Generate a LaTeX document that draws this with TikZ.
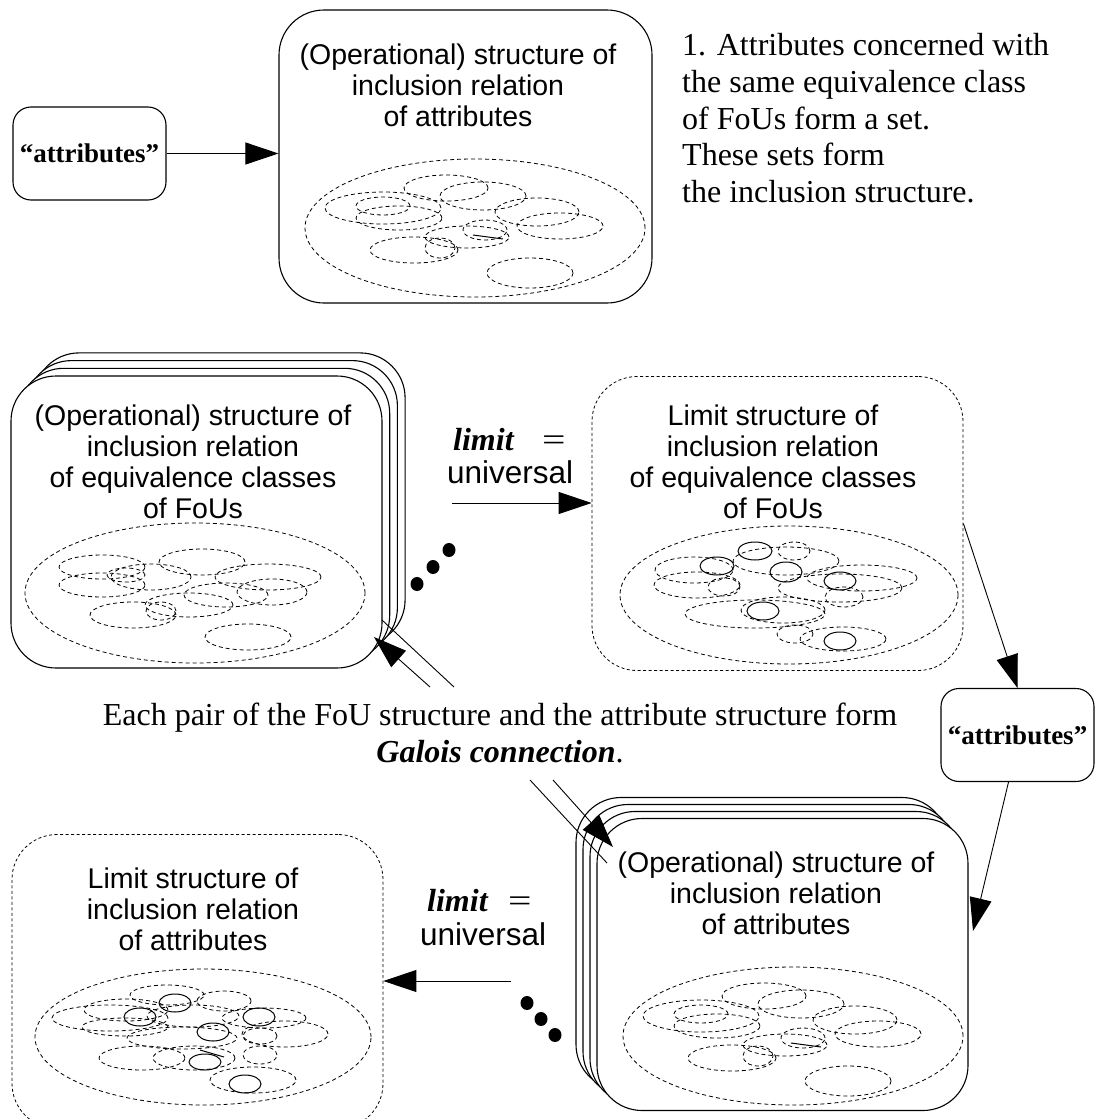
\documentclass[tikz,border=0pt]{standalone}
\usepackage{fontspec}
\setmainfont{Liberation Serif}
\newfontfamily\arialf{Liberation Sans}
\usetikzlibrary{arrows.meta,calc}
\newcommand\dashEl[4]{\draw[dsh] (#1,#2) ellipse [x radius=#3pt, y radius=#4pt];}
\newcommand\solEl[4]{\draw[sol] (#1,#2) ellipse [x radius=#3pt, y radius=#4pt];}
\tikzset{
  solidbox/.style={draw, line width=1.1pt, rounded corners=45pt, fill=white, minimum width=371pt, minimum height=292pt, inner sep=0pt},
  dashbox/.style={draw, line width=0.8pt, dash pattern=on 3pt off 2.5pt, rounded corners=45pt, minimum width=371pt, minimum height=294pt, inner sep=0pt},
  attrbox/.style={draw, line width=1.1pt, rounded corners=18pt, fill=white, minimum width=153pt, minimum height=93pt, inner sep=0pt, font=\fontsize{27}{30}\selectfont\bfseries},
  arr/.style={line width=0.9pt, -{Triangle[length=33pt,width=22pt]}},
  plainline/.style={line width=0.9pt},
  boxtext/.style={font=\arialf\fontsize{28.5}{30.8}\selectfont, align=center, inner sep=0pt, anchor=north},
  sanslbl/.style={font=\arialf\fontsize{31.5}{34}\selectfont, inner sep=0pt},
  seriflbl/.style={font=\fontsize{32}{36.8}\selectfont, inner sep=0pt},
  dsh/.style={line width=0.8pt, dash pattern=on 4pt off 3pt},
  sol/.style={line width=1pt},
}
\begin{document}
\begin{tikzpicture}[x=1pt,y=-1pt]
\useasboundingbox (0,0) rectangle (1095,1119);

% ---------------- top row ----------------
\node[attrbox] (attr1) at (89.5,153.5) {``attributes''};
\node[solidbox, minimum width=373pt, minimum height=293pt] (top) at (465.5,156.5) {};
\node[boxtext] (topT) at (458,44) {(Operational) structure of\\inclusion relation\\of attributes};
\begin{scope}
  \dashEl{475}{228}{170}{69}
  \dashEl{446}{188}{42}{13}
  \dashEl{483}{196}{43}{14}
  \dashEl{383}{208}{58}{16}
  \dashEl{383}{206}{27}{9}
  \dashEl{399}{218}{43}{12}
  \dashEl{537}{212}{42}{14}
  \dashEl{560}{226}{43}{13}
  \dashEl{485}{230}{22}{10}
  \dashEl{467}{237}{42}{11}
  \dashEl{414}{250}{44}{13}
  \dashEl{440}{248}{15}{10}
  \dashEl{530}{273}{43}{15}
  \draw[sol] (473,235) -- (503,239);
\end{scope}
\draw[arr] (attr1.east) -- (attr1.east -| top.west);
\node[seriflbl, anchor=north west, align=left] (note) at (682,33)
  {1. Attributes concerned with\\the same equivalence class\\of FoUs form a set.\\These sets form\\the inclusion structure.};

% ---------------- middle row ----------------
\foreach \k in {3,2,1}{
  \node[solidbox] (fou\k) at ({196.5+7.7*\k},{522-7.7*\k}) {};
}
\node[solidbox] (fou) at (196.5,522) {};
\node[boxtext] (fouT) at (193,405) {(Operational) structure of\\inclusion relation\\of equivalence classes\\of FoUs};
\dashEl{195}{593}{170}{70}
\dashEl{102}{567}{43}{12}
\dashEl{102}{585}{43}{12}
\dashEl{126}{575}{19}{7}
\dashEl{151}{577}{40}{13}
\dashEl{202}{562}{43}{13}
\dashEl{268}{577}{53}{13}
\dashEl{272}{592}{35}{13}
\dashEl{226}{595}{42}{12}
\dashEl{189}{605}{44}{12}
\dashEl{133}{615}{43}{13}
\dashEl{161}{611}{15}{9}
\dashEl{248}{637}{43}{13}

\node[dashbox] (limF) at (777.5,523.5) {};
\node[boxtext] (limFT) at (773,405) {Limit structure of\\inclusion relation\\of equivalence classes\\of FoUs};
\dashEl{789}{595}{169}{69}
\dashEl{794}{551}{16}{9}
\dashEl{694}{570}{39}{13}
\dashEl{697}{585}{43}{13}
\dashEl{724}{587}{16}{9}
\dashEl{786}{561}{53}{14}
\dashEl{862}{578}{55}{13}
\dashEl{840}{588}{62}{14}
\dashEl{844}{597}{19}{10}
\dashEl{783}{610}{42}{13}
\dashEl{755}{614}{70}{14}
\dashEl{795}{634}{18}{9}
\dashEl{843}{639}{43}{12}
\solEl{755}{551}{17}{9}
\solEl{717}{566}{17}{9}
\solEl{786}{572}{16}{10}
\solEl{840}{581}{16}{9}
\solEl{763}{611}{16}{9}
\solEl{840}{641}{16}{9}

\node[seriflbl, anchor=base west] (lim1) at (453,450) {\bfseries\itshape limit};
\node[seriflbl, anchor=base west] (eq1) at (542,450) {\scalebox{1.3}[1]{=}};
\node[sanslbl, anchor=base west] (uni1) at (447,483) {universal};
\coordinate (m1) at (452,503);
\draw[arr] (m1) -- (m1 -| limF.west);
\fill (417,584) ellipse [x radius=6.5pt, y radius=7pt];
\fill (433,567) ellipse [x radius=6.5pt, y radius=7pt];
\fill (449,550) ellipse [x radius=6.5pt, y radius=7pt];

\node[attrbox] (attr2) at (1017.5,735) {``attributes''};
\draw[arr] (limF.east) -- (attr2.north);

% ---------------- Galois text ----------------
\node[seriflbl, anchor=north, align=center] (gal) at (500,703)
  {Each pair of the FoU structure and the attribute structure form\\\textbf{\textit{Galois connection}}.};

% ---------------- bottom row ----------------
\foreach \k in {3,2,1}{
  \node[solidbox] (opa\k) at ({782.5-7*\k},{964.5-7*\k}) {};
}
\node[solidbox] (opa) at (782.5,964.5) {};
\node[boxtext] (opaT) at (776,852) {(Operational) structure of\\inclusion relation\\of attributes};
\begin{scope}[shift={(318,808)}]
  \dashEl{475}{228}{170}{69}
  \dashEl{446}{188}{42}{13}
  \dashEl{483}{196}{43}{14}
  \dashEl{383}{208}{58}{16}
  \dashEl{383}{206}{27}{9}
  \dashEl{399}{218}{43}{12}
  \dashEl{537}{212}{42}{14}
  \dashEl{560}{226}{43}{13}
  \dashEl{485}{230}{22}{10}
  \dashEl{467}{237}{42}{11}
  \dashEl{414}{250}{44}{13}
  \dashEl{440}{248}{15}{10}
  \dashEl{530}{273}{43}{15}
  \draw[sol] (473,235) -- (503,239);
\end{scope}
\coordinate (t2) at (973,931);
\draw[arr] ($(attr2.south)+(-9,0)$) -- (t2);

\node[dashbox] (limA) at (197.5,981.5) {};
\node[boxtext] (limAT) at (193,868) {Limit structure of\\inclusion relation\\of attributes};
\dashEl{203}{1037}{168}{68}
\dashEl{167}{995}{37}{10}
\dashEl{224}{1001}{27}{10}
\dashEl{110}{1018}{58}{13}
\dashEl{126}{1010}{42}{11}
\dashEl{125}{1027}{43}{9}
\dashEl{193}{1016}{46}{11}
\dashEl{264}{1018}{42}{10}
\dashEl{285}{1034}{43}{13}
\dashEl{182}{1038}{55}{11}
\dashEl{260}{1036}{17}{8}
\dashEl{142}{1058}{43}{12}
\dashEl{194}{1058}{41}{12}
\dashEl{260}{1055}{17}{9}
\dashEl{253}{1080}{43}{13}
\solEl{175}{1003}{16}{9}
\solEl{140}{1017}{16}{9}
\solEl{259}{1017}{16}{9}
\solEl{213}{1032}{16}{9}
\solEl{205}{1062}{16}{8}
\solEl{245}{1084}{16}{9}
\draw[sol] (200,1050) -- (224,1057);

\node[seriflbl, anchor=base west] (lim2) at (427,911) {\bfseries\itshape limit};
\node[seriflbl, anchor=base west] (eq2) at (508,911) {\scalebox{1.3}[1]{=}};
\node[sanslbl, anchor=base west] (uni2) at (420,945) {universal};
\coordinate (m2) at (511,981);
\draw[arr] (m2) -- (m2 -| limA.east);
\fill (527,1003) ellipse [x radius=6.5pt, y radius=7pt];
\fill (541,1019) ellipse [x radius=6.5pt, y radius=7pt];
\fill (555,1035) ellipse [x radius=6.5pt, y radius=7pt];

% ---------------- Galois connectors ----------------
\coordinate (g1s) at (430,687);
\coordinate (g1e) at (374,637);
\coordinate (g2s) at (454,687);
\coordinate (g2e) at (382,620);
\coordinate (g3s) at (530,780);
\coordinate (g3e) at (607,863);
\coordinate (g4s) at (553,780);
\coordinate (g4e) at (613,847);
\draw[arr] (g1s) -- (g1e);
\draw[plainline] (g2s) -- (g2e);
\draw[plainline] (g3s) -- (g3e);
\draw[arr] (g4s) -- (g4e);
\end{tikzpicture}
\end{document}
